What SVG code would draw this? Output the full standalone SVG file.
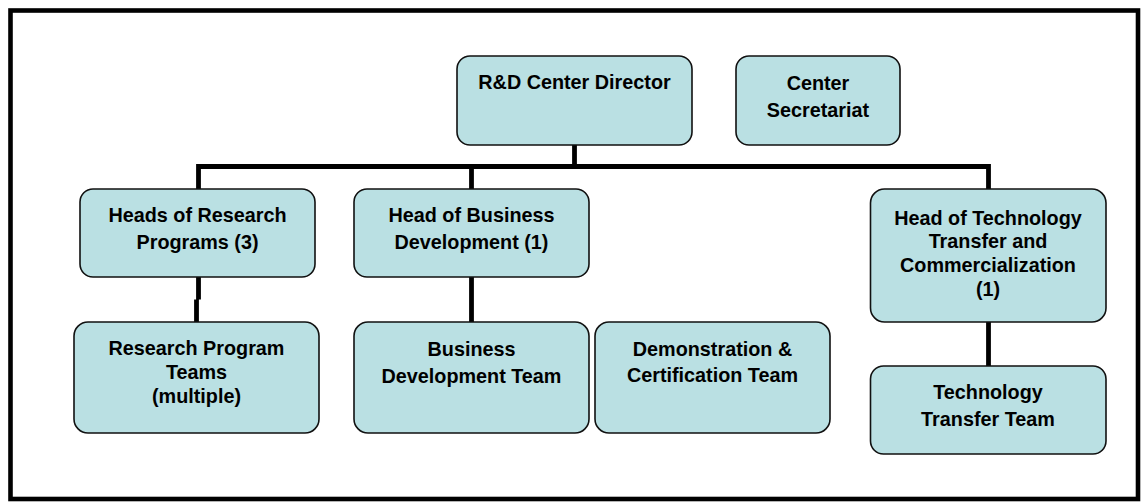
<svg xmlns="http://www.w3.org/2000/svg" width="1141" height="502" viewBox="0 0 1141 502">
<style>
.box{fill:#BAE0E3;stroke:#111;stroke-width:1.6}
.t{font-family:"Liberation Sans",Arial,sans-serif;font-weight:bold;font-size:19.8px;fill:#000;text-anchor:middle}
.c{fill:none;stroke:#000;stroke-width:4.8;stroke-linecap:butt;stroke-linejoin:miter}
</style>
<rect x="0" y="0" width="1141" height="502" fill="#fff"/>
<rect x="10.5" y="10.5" width="1127.5" height="488.5" fill="none" stroke="#000" stroke-width="4.6"/>
<g id="connectors">
<path class="c" d="M574.5 145 V166.5"/>
<path class="c" d="M198.5 189 V166.5 H988.5 V189"/>
<path class="c" d="M471.5 166.5 V189"/>
<path class="c" d="M198.5 277 V299.5 M196.5 299.5 V322"/>
<path class="c" d="M471.5 277 V322"/>
<path class="c" d="M988.5 322 V366"/>
</g>
<g id="director">
<rect class="box" x="457" y="56" width="235" height="89" rx="13"/>
<text class="t" x="574.5" y="89">R&amp;D Center Director</text>
</g>
<g id="secretariat">
<rect class="box" x="736" y="56" width="164" height="89" rx="13"/>
<text class="t" x="818" y="90">Center</text>
<text class="t" x="818" y="117">Secretariat</text>
</g>
<g id="heads-research">
<rect class="box" x="80" y="189" width="235" height="88" rx="13"/>
<text class="t" x="197.5" y="222">Heads of Research</text>
<text class="t" x="197.5" y="249">Programs (3)</text>
</g>
<g id="head-business">
<rect class="box" x="354" y="189" width="235" height="88" rx="13"/>
<text class="t" x="471.5" y="222">Head of Business</text>
<text class="t" x="471.5" y="249">Development (1)</text>
</g>
<g id="head-tech">
<rect class="box" x="870.5" y="189" width="235.5" height="133" rx="14"/>
<text class="t" x="988" y="224.5">Head of Technology</text>
<text class="t" x="988" y="248.3">Transfer and</text>
<text class="t" x="988" y="272">Commercialization</text>
<text class="t" x="988" y="296">(1)</text>
</g>
<g id="research-teams">
<rect class="box" x="74" y="322" width="245" height="111" rx="14"/>
<text class="t" x="196.5" y="355">Research Program</text>
<text class="t" x="196.5" y="379">Teams</text>
<text class="t" x="196.5" y="403">(multiple)</text>
</g>
<g id="bd-team">
<rect class="box" x="354" y="322" width="235" height="111" rx="14"/>
<text class="t" x="471.5" y="356">Business</text>
<text class="t" x="471.5" y="383">Development Team</text>
</g>
<g id="demo-team">
<rect class="box" x="595" y="322" width="235" height="111" rx="14"/>
<text class="t" x="712.5" y="356">Demonstration &amp;</text>
<text class="t" x="712.5" y="382">Certification Team</text>
</g>
<g id="tt-team">
<rect class="box" x="870.5" y="366" width="235.5" height="88" rx="13"/>
<text class="t" x="988" y="399">Technology</text>
<text class="t" x="988" y="426">Transfer Team</text>
</g>
</svg>
